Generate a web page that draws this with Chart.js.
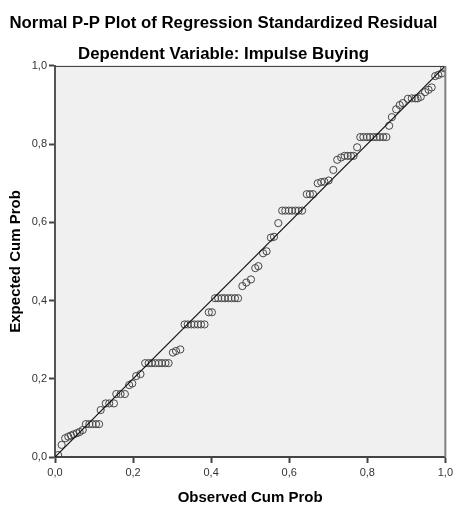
<!DOCTYPE html>
<html>
<head>
<meta charset="utf-8">
<script src="https://cdn.jsdelivr.net/npm/chart.js@4/dist/chart.umd.min.js"></script>
<style>
html, body { margin: 0; padding: 0; background: #fff; }
</style>
</head>
<body>
<canvas id="ppCanvas" width="456" height="507"></canvas>
<script>
// values
var observedProb = [
	0.008, 0.017,
	0.026, 0.034, 0.041, 0.048, 0.056, 0.063, 0.071,
	0.079, 0.088, 0.096, 0.105, 0.113,
	0.117, 0.130, 0.139, 0.151,
	0.157, 0.168, 0.179, 0.190, 0.198, 0.208, 0.219,
	0.231, 0.240, 0.248, 0.257, 0.266, 0.274, 0.283, 0.291,
	0.302, 0.310, 0.321,
	0.332, 0.340, 0.349, 0.357, 0.366, 0.374, 0.383,
	0.394, 0.402,
	0.410, 0.418, 0.427, 0.435, 0.444, 0.452, 0.461, 0.469,
	0.480, 0.490, 0.502, 0.513, 0.521, 0.533, 0.542, 0.553, 0.561, 0.572,
	0.582, 0.590, 0.599, 0.607, 0.616, 0.624, 0.633,
	0.645, 0.653, 0.661,
	0.673, 0.682, 0.690, 0.701, 0.713,
	0.723, 0.733, 0.742, 0.750, 0.758, 0.765, 0.774,
	0.782, 0.790, 0.799, 0.807, 0.816, 0.824, 0.832, 0.841, 0.849,
	0.856, 0.863, 0.874, 0.883, 0.891,
	0.904, 0.914, 0.923, 0.929, 0.937,
	0.948, 0.957, 0.965,
	0.974, 0.982, 0.991, 0.997
];
var expectedProb = [
	0.005, 0.031,
	0.048, 0.052, 0.055, 0.058, 0.061, 0.064, 0.069,
	0.084, 0.084, 0.084, 0.084, 0.084,
	0.120, 0.137, 0.137, 0.137,
	0.161, 0.161, 0.161, 0.184, 0.188, 0.207, 0.212,
	0.240, 0.240, 0.240, 0.240, 0.240, 0.240, 0.240, 0.240,
	0.267, 0.271, 0.275,
	0.339, 0.339, 0.339, 0.339, 0.339, 0.339, 0.339,
	0.370, 0.370,
	0.406, 0.406, 0.406, 0.406, 0.406, 0.406, 0.406, 0.406,
	0.437, 0.446, 0.454, 0.483, 0.488, 0.521, 0.526, 0.561, 0.563, 0.598,
	0.630, 0.630, 0.630, 0.630, 0.630, 0.630, 0.630,
	0.672, 0.672, 0.672,
	0.700, 0.703, 0.704, 0.707, 0.734,
	0.760, 0.766, 0.770, 0.770, 0.770, 0.770, 0.792,
	0.818, 0.818, 0.818, 0.818, 0.818, 0.818, 0.818, 0.818, 0.818,
	0.847, 0.869, 0.889, 0.900, 0.905,
	0.916, 0.917, 0.917, 0.917, 0.921,
	0.933, 0.939, 0.945,
	0.974, 0.977, 0.981, 0.994
];
var refLine = [0, 1];
var tickValues = [0, 0.2, 0.4, 0.6, 0.8, 1.0];

var points = [];
for (var i in observedProb) {
	points.push({x: observedProb[i], y: expectedProb[i]});
}

Chart.defaults.font.family = "'Liberation Sans', Arial, sans-serif";

// grey plot background plus the top / right frame lines
var plotFrame = {
	id: 'plotFrame',
	beforeDraw: function(chart) {
		var a = chart.chartArea, ctx = chart.ctx;
		ctx.save();
		ctx.fillStyle = '#f0f0f0';
		ctx.fillRect(a.left, a.top, a.right - a.left, a.bottom - a.top);
		ctx.restore();
	},
	afterDraw: function(chart) {
		var a = chart.chartArea, ctx = chart.ctx;
		ctx.save();
		ctx.strokeStyle = '#333';
		ctx.lineWidth = 1;
		ctx.beginPath();
		ctx.moveTo(a.left, a.top + 0.5);
		ctx.lineTo(a.right, a.top + 0.5);
		ctx.stroke();
		ctx.strokeStyle = '#808080';
		ctx.lineWidth = 2;
		ctx.beginPath();
		ctx.moveTo(a.right, a.top);
		ctx.lineTo(a.right, a.bottom);
		ctx.stroke();
		ctx.restore();
	}
};

function fmt(v) {
	return v.toFixed(1).replace('.', ',');
}

var ctx = document.getElementById('ppCanvas');

new Chart(ctx, {
	type: 'scatter',
	data: {
		datasets: [
			{
				type: 'line',
				data: refLine.map(function(v) { return {x: v, y: v}; }),
				borderColor: '#111',
				borderWidth: 1.2,
				pointRadius: 0,
				fill: false,
				order: 0
			},
			{
				data: points,
				borderColor: '#474747',
				borderWidth: 1,
				backgroundColor: 'rgba(0,0,0,0)',
				pointRadius: 3.6,
				order: 1
			}
		]
	},
	options: {
		responsive: false,
		animation: false,
		layout: { padding: { left: 0, right: 9, top: 0, bottom: 0 } },
		plugins: {
			legend: { display: false },
			tooltip: { enabled: false },
			title: {
				display: true,
				text: 'Normal P-P Plot of Regression Standardized Residual',
				color: '#000',
				font: { size: 16.8, weight: 'bold' },
				padding: { top: 13.4, bottom: 6 }
			},
			subtitle: {
				display: true,
				text: 'Dependent Variable: Impulse Buying',
				color: '#000',
				font: { size: 16.8, weight: 'bold' },
				padding: { top: 4.8, bottom: 1.4 }
			}
		},
		scales: {
			x: {
				type: 'linear',
				min: 0,
				max: 1,
				afterBuildTicks: function(s) { s.ticks = tickValues.map(function(v) { return {value: v}; }); },
				afterFit: function(s) { s.height = 50; },
				ticks: {
					color: '#333',
					font: { size: 11 },
					padding: 3,
					maxRotation: 0,
					callback: fmt
				},
				grid: { drawOnChartArea: false, drawTicks: true, tickLength: 6, tickColor: '#444', tickWidth: 2 },
				border: { display: true, color: '#444', width: 2 },
				title: {
					display: true,
					text: 'Observed Cum Prob',
					color: '#000',
					font: { size: 15, weight: 'bold' },
					padding: { top: 0, bottom: 0 }
				}
			},
			y: {
				type: 'linear',
				min: 0,
				max: 1,
				afterBuildTicks: function(s) { s.ticks = tickValues.map(function(v) { return {value: v}; }); },
				afterFit: function(s) { s.width = 55; },
				ticks: {
					color: '#333',
					font: { size: 11 },
					padding: 2,
					callback: fmt
				},
				grid: { drawOnChartArea: false, drawTicks: true, tickLength: 6, tickColor: '#444', tickWidth: 2 },
				border: { display: true, color: '#555', width: 2 },
				title: {
					display: true,
					text: 'Expected Cum Prob',
					color: '#000',
					font: { size: 15, weight: 'bold' },
					padding: { top: 7, bottom: 0 }
				}
			}
		}
	},
	plugins: [plotFrame]
});
</script>
</body>
</html>
